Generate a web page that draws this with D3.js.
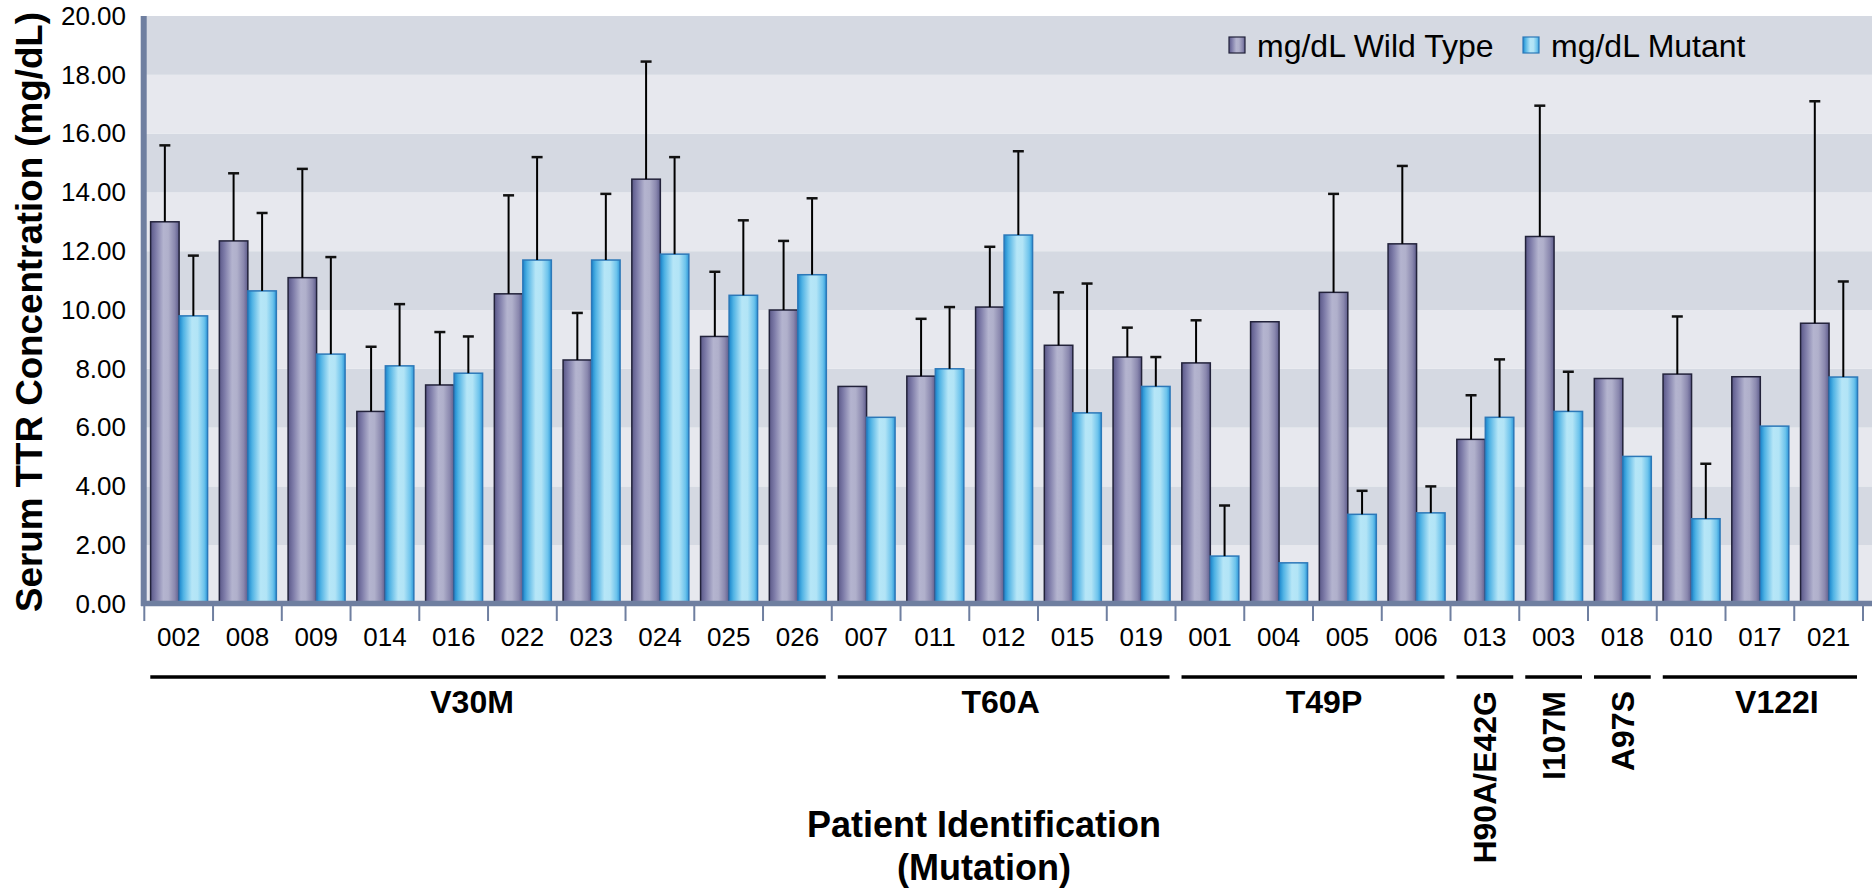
<!DOCTYPE html>
<html>
<head>
<meta charset="utf-8">
<script src="https://cdn.jsdelivr.net/npm/d3@7"></script>
<style>
  body { margin: 0; background: #fff; }
  svg { display: block; font-family: "Liberation Sans", Arial, sans-serif; }
</style>
</head>
<body>
<svg id="chart" width="1872" height="888"></svg>
<script>
// patient ids, in plot order
var patients = ["002","008","009","014","016","022","023","024","025","026",
                "007","011","012","015","019",
                "001","004","005","006",
                "013","003","018",
                "010","017","021"];

// mutation groups: name, first index, last index, label rotated or not
var groupNames = ["V30M","T60A","T49P","H90A/E42G","I107M","A97S","V122I"];
var groupStart = [0, 10, 15, 19, 20, 21, 22];
var groupEnd   = [9, 14, 18, 19, 20, 21, 24];
var groupRotated = [false, false, false, true, true, true, false];

// serum TTR, mg/dL
var wildType = [13.0, 12.35, 11.1, 6.55, 7.45, 10.55, 8.3, 14.45, 9.1, 10.0,
                7.4, 7.75, 10.1, 8.8, 8.4,
                8.2, 9.6, 10.6, 12.25,
                5.6, 12.5, 7.67,
                7.82, 7.73, 9.55];
var mutant   = [9.8, 10.65, 8.5, 8.1, 7.85, 11.7, 11.7, 11.9, 10.5, 11.2,
                6.35, 8.0, 12.55, 6.5, 7.4,
                1.63, 1.4, 3.05, 3.1,
                6.35, 6.55, 5.02,
                2.9, 6.05, 7.72];
// upper error (null = no error bar)
var wildErr   = [2.6, 2.3, 3.7, 2.2, 1.8, 3.35, 1.6, 4.0, 2.2, 2.35,
                 null, 1.95, 2.05, 1.8, 1.0,
                 1.45, null, 3.35, 2.65,
                 1.5, 4.45, null,
                 1.96, null, 7.55];
var mutantErr = [2.05, 2.65, 3.3, 2.1, 1.25, 3.5, 2.25, 3.3, 2.55, 2.6,
                 null, 2.1, 2.85, 4.4, 1.0,
                 1.72, null, 0.8, 0.9,
                 1.97, 1.35, null,
                 1.87, null, 3.25];

var yTicks = [0, 2, 4, 6, 8, 10, 12, 14, 16, 18, 20];
var seriesNames = ["mg/dL Wild Type", "mg/dL Mutant"];

var svg = d3.select("#chart");

var x0 = d3.scaleBand().domain(patients).range([144.3, 1863]).padding(0);
var x1 = d3.scaleBand().domain(["wild", "mutant"]).range([6.3, 63.3]).padding(0);
var y = d3.scaleLinear().domain([0, 20]).range([604, 16]);

// gradients
var defs = svg.append("defs");
function addGradient(id, stops) {
  var g = defs.append("linearGradient").attr("id", id)
    .attr("x1", "0%").attr("x2", "100%").attr("y1", "0%").attr("y2", "0%");
  stops.forEach(function (s) {
    g.append("stop").attr("offset", s[0]).attr("stop-color", s[1]);
  });
}
addGradient("gradWild", [["0%", "#5a5888"], ["18%", "#7d7ba8"], ["45%", "#b4b4cf"],
                         ["62%", "#b0b0cb"], ["85%", "#8a88ae"], ["100%", "#5e5c8c"]]);
addGradient("gradMut", [["0%", "#1a86cc"], ["15%", "#4fb2e4"], ["45%", "#b6e6f7"],
                        ["65%", "#b2e4f6"], ["88%", "#6cc3ec"], ["100%", "#2d98d8"]]);

// striped background
var bands = d3.range(0, 20, 2);
svg.selectAll("rect.bg")
  .data(bands)
  .enter()
  .append("rect")
  .attr("class", "bg")
  .attr("x", 144)
  .attr("width", 1872 - 144)
  .attr("y", function (d) { return y(d + 2); })
  .attr("height", function (d) { return y(d) - y(d + 2); })
  .attr("fill", function (d, i) { return i % 2 === 0 ? "#e7e8ee" : "#d5d9e2"; });

// bars
var groups = svg.selectAll("g.pair")
  .data(patients)
  .enter()
  .append("g")
  .attr("class", "pair")
  .attr("transform", function (d) { return "translate(" + x0(d) + ",0)"; });

groups.append("rect")
  .attr("x", x1("wild"))
  .attr("width", x1.bandwidth())
  .attr("y", function (d, i) { return y(wildType[i]); })
  .attr("height", function (d, i) { return y(0) - y(wildType[i]); })
  .attr("fill", "url(#gradWild)")
  .attr("stroke", "#22223a")
  .attr("stroke-width", 1.5);

groups.append("rect")
  .attr("x", x1("mutant"))
  .attr("width", x1.bandwidth())
  .attr("y", function (d, i) { return y(mutant[i]); })
  .attr("height", function (d, i) { return y(0) - y(mutant[i]); })
  .attr("fill", "url(#gradMut)")
  .attr("stroke", "#2c78b8")
  .attr("stroke-width", 1.5);

// error bars (upper only)
function errorBar(g, key, vals, errs) {
  var cx = x1(key) + x1.bandwidth() / 2;
  g.each(function (d, i) {
    if (errs[i] == null) return;
    var sel = d3.select(this);
    var top = y(vals[i] + errs[i]);
    sel.append("line")
      .attr("x1", cx).attr("x2", cx)
      .attr("y1", y(vals[i])).attr("y2", top)
      .attr("stroke", "#000").attr("stroke-width", 2);
    sel.append("line")
      .attr("x1", cx - 5.5).attr("x2", cx + 5.5)
      .attr("y1", top).attr("y2", top)
      .attr("stroke", "#111").attr("stroke-width", 2.5);
  });
}
errorBar(groups, "wild", wildType, wildErr);
errorBar(groups, "mutant", mutant, mutantErr);

// axis lines
svg.append("line")
  .attr("x1", 141).attr("x2", 1872)
  .attr("y1", 603.5).attr("y2", 603.5)
  .attr("stroke", "#6f7fa0").attr("stroke-width", 5.5);
svg.append("line")
  .attr("x1", 143.7).attr("x2", 143.7)
  .attr("y1", 16).attr("y2", 606)
  .attr("stroke", "#6f7fa0").attr("stroke-width", 6);

// x ticks between patients
var boundaries = d3.range(patients.length + 1);
svg.selectAll("line.xtick")
  .data(boundaries)
  .enter()
  .append("line")
  .attr("class", "xtick")
  .attr("x1", function (d) { return x0.range()[0] + d * x0.step(); })
  .attr("x2", function (d) { return x0.range()[0] + d * x0.step(); })
  .attr("y1", 606).attr("y2", 621)
  .attr("stroke", "#6f7fa0").attr("stroke-width", 2);

// y axis labels
var yAxis = svg.append("g")
  .attr("transform", "translate(126,0)")
  .call(d3.axisLeft(y).tickValues(yTicks).tickFormat(d3.format(".2f")).tickSize(0).tickPadding(0));
yAxis.select(".domain").remove();
yAxis.selectAll("text")
  .attr("font-size", "26px")
  .attr("font-family", "Liberation Sans, Arial, sans-serif")
  .attr("fill", "#000");

// x axis labels
var xAxis = svg.append("g")
  .attr("transform", "translate(0,620)")
  .call(d3.axisBottom(x0).tickSize(0).tickPadding(0));
xAxis.select(".domain").remove();
xAxis.selectAll("text")
  .attr("y", 26)
  .attr("dy", 0)
  .attr("font-size", "26px")
  .attr("font-family", "Liberation Sans, Arial, sans-serif")
  .attr("fill", "#000");

// mutation group underlines and labels
var labelShift = { "V30M": -16, "T60A": -3, "T49P": 11, "V122I": 17 };
groupNames.forEach(function (name, i) {
  var x0s = x0.range()[0] + groupStart[i] * x0.step();
  var x0e = x0.range()[0] + (groupEnd[i] + 1) * x0.step();
  svg.append("line")
    .attr("x1", x0s + 6).attr("x2", x0e - 6)
    .attr("y1", 677).attr("y2", 677)
    .attr("stroke", "#000").attr("stroke-width", 3.5);
  var cx = (x0s + x0e) / 2;
  if (groupRotated[i]) {
    svg.append("text")
      .attr("transform", "translate(" + cx + ",691) rotate(-90)")
      .attr("text-anchor", "end")
      .attr("dy", "0.36em")
      .attr("font-size", "32px")
      .attr("font-weight", "bold")
      .text(name);
  } else {
    svg.append("text")
      .attr("x", cx + (labelShift[name] || 0))
      .attr("y", 713)
      .attr("text-anchor", "middle")
      .attr("font-size", "32px")
      .attr("font-weight", "bold")
      .text(name);
  }
});

// axis titles
svg.append("text")
  .attr("transform", "translate(42,312) rotate(-90)")
  .attr("text-anchor", "middle")
  .attr("font-size", "36px")
  .attr("font-weight", "bold")
  .attr("textLength", 600)
  .attr("lengthAdjust", "spacingAndGlyphs")
  .text("Serum TTR Concentration (mg/dL)");

svg.append("text")
  .attr("x", 984).attr("y", 837)
  .attr("text-anchor", "middle")
  .attr("font-size", "36px")
  .attr("font-weight", "bold")
  .text("Patient Identification");
svg.append("text")
  .attr("x", 984).attr("y", 880)
  .attr("text-anchor", "middle")
  .attr("font-size", "36px")
  .attr("font-weight", "bold")
  .text("(Mutation)");

// legend
var legendX = [1229, 1523];
var legendFill = ["url(#gradWild)", "url(#gradMut)"];
var legendStroke = ["#22223a", "#2c78b8"];
seriesNames.forEach(function (name, i) {
  svg.append("rect")
    .attr("x", legendX[i]).attr("y", 37)
    .attr("width", 16).attr("height", 16)
    .attr("fill", legendFill[i])
    .attr("stroke", legendStroke[i])
    .attr("stroke-width", 1.2);
  svg.append("text")
    .attr("x", legendX[i] + 28).attr("y", 57)
    .attr("font-size", "32px")
    .text(name);
});
</script>
</body>
</html>
